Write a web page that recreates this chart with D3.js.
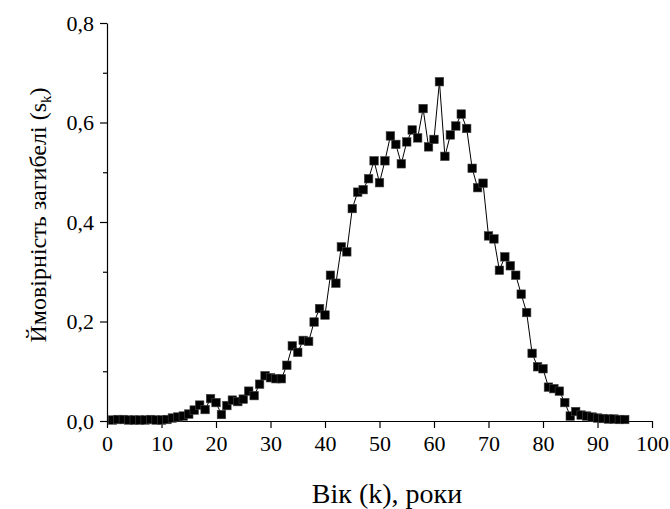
<!DOCTYPE html>
<meta charset="utf-8">
<style>
  body { margin: 0; background: #fff; }
</style>
<div id="chart"></div>
<script src="https://d3js.org/d3.v7.min.js"></script>
<script>
  // age k and probability of death s_k
  var ages = d3.range(1, 96);
  var probs = [
    0.002, 0.003, 0.003, 0.002, 0.002, 0.002, 0.002, 0.003, 0.002, 0.002,
    0.003, 0.006, 0.008, 0.010, 0.014, 0.022, 0.032, 0.023, 0.045, 0.037,
    0.013, 0.031, 0.042, 0.039, 0.044, 0.060, 0.051, 0.074, 0.091, 0.087,
    0.085, 0.085, 0.112, 0.151, 0.138, 0.162, 0.160, 0.199, 0.226, 0.213,
    0.293, 0.277, 0.350, 0.340, 0.427, 0.460, 0.465, 0.487, 0.523, 0.479,
    0.523, 0.573, 0.556, 0.517, 0.561, 0.585, 0.569, 0.628, 0.551, 0.566,
    0.682, 0.532, 0.575, 0.593, 0.617, 0.588, 0.508, 0.469, 0.478, 0.372,
    0.366, 0.303, 0.330, 0.312, 0.293, 0.255, 0.218, 0.136, 0.109, 0.105,
    0.068, 0.065, 0.060, 0.037, 0.010, 0.019, 0.012, 0.010, 0.008, 0.006,
    0.005, 0.004, 0.004, 0.003, 0.003
  ];
  var xTicks = [0, 10, 20, 30, 40, 50, 60, 70, 80, 90, 100];
  var yTicks = [0, 0.2, 0.4, 0.6, 0.8];
  var yMinor = [0.1, 0.3, 0.5, 0.7];

  var width = 670, height = 509;
  var margin = {top: 23, right: 18, bottom: 88, left: 107};
  var serif = "Liberation Serif";

  var svg = d3.select("#chart").append("svg")
      .attr("width", width)
      .attr("height", height);

  var x = d3.scaleLinear().domain([0, 100]).range([margin.left, width - margin.right]);
  var y = d3.scaleLinear().domain([0, 0.8]).range([height - margin.bottom, margin.top]);

  var fmt = function(d) { return d3.format(".1f")(d).replace(".", ","); };

  // x axis
  svg.append("g")
      .attr("transform", "translate(0," + y(0) + ")")
      .call(d3.axisBottom(x).tickValues(xTicks).tickSize(7).tickPadding(7).tickSizeOuter(0));
  // y axis
  svg.append("g")
      .attr("transform", "translate(" + x(0) + ",0)")
      .call(d3.axisLeft(y).tickValues(yTicks).tickFormat(fmt).tickSize(7).tickPadding(6).tickSizeOuter(0));
  svg.append("g")
      .attr("transform", "translate(" + x(0) + ",0)")
      .call(d3.axisLeft(y).tickValues(yMinor).tickFormat("").tickSize(4).tickSizeOuter(0))
      .select(".domain").remove();

  svg.selectAll(".domain, .tick line").attr("stroke", "#000").attr("stroke-width", 1.2);
  svg.selectAll(".tick text")
      .attr("fill", "#000")
      .attr("font-family", serif)
      .attr("font-size", 22);

  var pts = ages.map(function(k, i) { return [k, probs[i]]; });

  svg.append("path")
      .datum(pts)
      .attr("fill", "none")
      .attr("stroke", "#000")
      .attr("stroke-width", 1)
      .attr("d", d3.line().x(function(d) { return x(d[0]); }).y(function(d) { return y(d[1]); }));

  var s = 8.5;
  svg.append("g").selectAll("rect")
      .data(pts)
      .enter().append("rect")
      .attr("x", function(d) { return x(d[0]) - s / 2; })
      .attr("y", function(d) { return y(d[1]) - s / 2; })
      .attr("width", s)
      .attr("height", s)
      .attr("fill", "#000")
      .attr("stroke", "#444")
      .attr("stroke-width", 0.6);

  // axis titles
  svg.append("text")
      .attr("x", 387)
      .attr("y", 503)
      .attr("text-anchor", "middle")
      .attr("font-family", serif)
      .attr("font-size", 28)
      .text("Вік (k), роки");

  var yt = svg.append("text")
      .attr("transform", "translate(46,215) rotate(-90)")
      .attr("text-anchor", "middle")
      .attr("font-family", serif)
      .attr("font-size", 24);
  yt.append("tspan").text("Ймовірність загибелі (s");
  yt.append("tspan").attr("dy", 5).attr("font-size", 15).text("k");
  yt.append("tspan").attr("dy", -5).text(")");
</script>
